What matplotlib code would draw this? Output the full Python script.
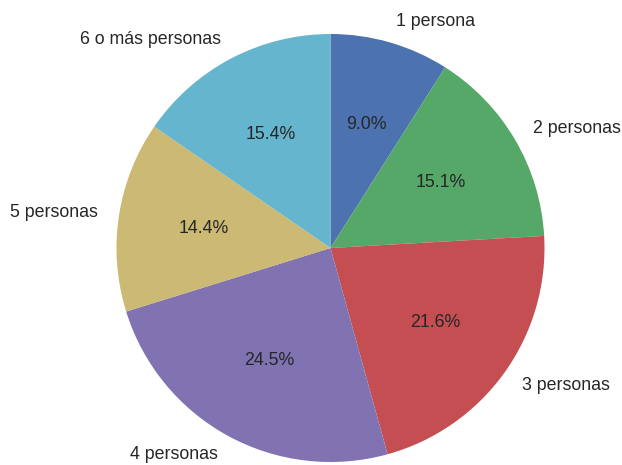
import matplotlib
matplotlib.use("Agg")
import matplotlib.pyplot as plt

labels = ["1 persona", "2 personas", "3 personas", "4 personas", "5 personas", "6 o más personas"]
values = [9.0, 15.1, 21.6, 24.5, 14.4, 15.4]
colors = ["#4C72B0", "#55A868", "#C44E52", "#8172B2", "#CCB974", "#64B5CD"]

plt.rcParams['font.family'] = ['Liberation Sans', 'DejaVu Sans']

W, H = 622, 465
fig = plt.figure(figsize=(W / 100, H / 100), dpi=100)
ax = fig.add_axes([0, 0, 1, 1])
ax.pie(values, labels=labels, colors=colors, autopct='%1.1f%%',
       startangle=90, counterclock=False,
       textprops={'fontsize': 12.8, 'color': '#262626'})

cx, cy, r = 330.5, H - 248, 214.0
ax.set_xlim(-cx / r, (W - cx) / r)
ax.set_ylim(-cy / r, (H - cy) / r)
ax.set_aspect('auto')
ax.axis('off')
fig.savefig("out.png", dpi=100)
